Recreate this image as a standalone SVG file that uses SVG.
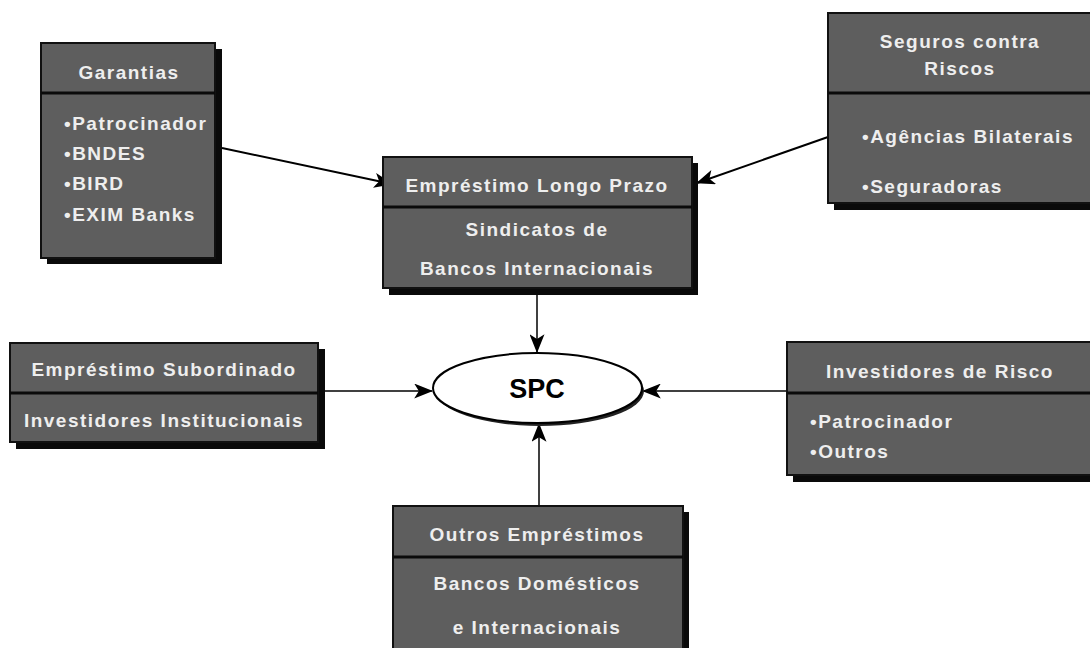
<svg xmlns="http://www.w3.org/2000/svg" width="1090" height="648" viewBox="0 0 1090 648">
<defs>
<style>
.box{fill:#5e5e5e;stroke:#111;stroke-width:2}
.sh{fill:#0a0a0a}
.div{stroke:#0a0a0a;stroke-width:3}
.t{font-family:"Liberation Sans",Arial,sans-serif;font-weight:bold;font-size:19px;fill:#eeeeee;letter-spacing:1.5px}
.c{text-anchor:middle}
</style>
<marker id="ah2" viewBox="0 0 20 16" refX="19" refY="8" markerWidth="20" markerHeight="15" markerUnits="userSpaceOnUse" orient="auto">
<path d="M0,0 L20,8 L0,16 L5,8 Z" fill="#000"/>
</marker>
</defs>
<rect width="1090" height="648" fill="#fff"/>

<g id="connectors">
<line x1="222" y1="148" x2="392" y2="184" stroke="#000" stroke-width="2" marker-end="url(#ah2)"/>
<line x1="828" y1="137" x2="697" y2="183" stroke="#000" stroke-width="2" marker-end="url(#ah2)"/>
<line x1="537" y1="295" x2="537" y2="352" stroke="#000" stroke-width="1.5" marker-end="url(#ah2)"/>
<line x1="325" y1="391" x2="432" y2="391" stroke="#000" stroke-width="1.5" marker-end="url(#ah2)"/>
<line x1="787" y1="391" x2="643" y2="391" stroke="#000" stroke-width="1.5" marker-end="url(#ah2)"/>
<line x1="539" y1="506" x2="539" y2="424" stroke="#000" stroke-width="1.5" marker-end="url(#ah2)"/>
</g>

<g id="garantias">
<rect class="sh" x="47" y="49" width="175" height="215"/>
<rect class="box" x="41" y="43" width="174" height="215"/>
<line class="div" x1="41" y1="93" x2="215" y2="93"/>
<text class="t c" x="129" y="79">Garantias</text>
<text class="t" x="64" y="130">•Patrocinador</text>
<text class="t" x="64" y="160">•BNDES</text>
<text class="t" x="64" y="190">•BIRD</text>
<text class="t" x="64" y="221">•EXIM Banks</text>
</g>

<g id="emprestimo-longo">
<rect class="sh" x="389" y="163" width="309" height="132"/>
<rect class="box" x="383" y="157" width="309" height="131"/>
<line class="div" x1="383" y1="207" x2="692" y2="207"/>
<text class="t c" x="537" y="192">Empréstimo Longo Prazo</text>
<text class="t c" x="537" y="236">Sindicatos de</text>
<text class="t c" x="537" y="275">Bancos  Internacionais</text>
</g>

<g id="seguros">
<rect class="sh" x="834" y="19" width="270" height="191"/>
<rect class="box" x="828" y="13" width="270" height="190"/>
<line class="div" x1="828" y1="93" x2="1098" y2="93"/>
<text class="t c" x="960" y="48">Seguros contra</text>
<text class="t c" x="960" y="75">Riscos</text>
<text class="t" x="862" y="143">•Agências Bilaterais</text>
<text class="t" x="862" y="193">•Seguradoras</text>
</g>

<g id="emprestimo-subordinado">
<rect class="sh" x="16" y="349" width="309" height="100"/>
<rect class="box" x="10" y="343" width="308" height="99"/>
<line class="div" x1="10" y1="393" x2="318" y2="393"/>
<text class="t c" x="164" y="376">Empréstimo Subordinado</text>
<text class="t c" x="164" y="427">Investidores Institucionais</text>
</g>

<g id="spc">
<ellipse cx="540" cy="391" rx="104" ry="35" fill="#222"/>
<ellipse cx="537.5" cy="388" rx="104.5" ry="35" fill="#fff" stroke="#000" stroke-width="2"/>
<text x="537" y="398" text-anchor="middle" font-family="'Liberation Sans',Arial,sans-serif" font-weight="bold" font-size="27" fill="#000">SPC</text>
</g>

<g id="investidores-risco">
<rect class="sh" x="793" y="348" width="310" height="134"/>
<rect class="box" x="787" y="342" width="310" height="133"/>
<line class="div" x1="787" y1="393" x2="1097" y2="393"/>
<text class="t c" x="940" y="378">Investidores de Risco</text>
<text class="t" x="810" y="428">•Patrocinador</text>
<text class="t" x="810" y="458">•Outros</text>
</g>

<g id="outros-emprestimos">
<rect class="sh" x="399" y="512" width="290" height="150"/>
<rect class="box" x="393" y="506" width="290" height="150"/>
<line class="div" x1="393" y1="557" x2="683" y2="557"/>
<text class="t c" x="537" y="541">Outros Empréstimos</text>
<text class="t c" x="537" y="590">Bancos Domésticos</text>
<text class="t c" x="537" y="634">e Internacionais</text>
</g>
</svg>
